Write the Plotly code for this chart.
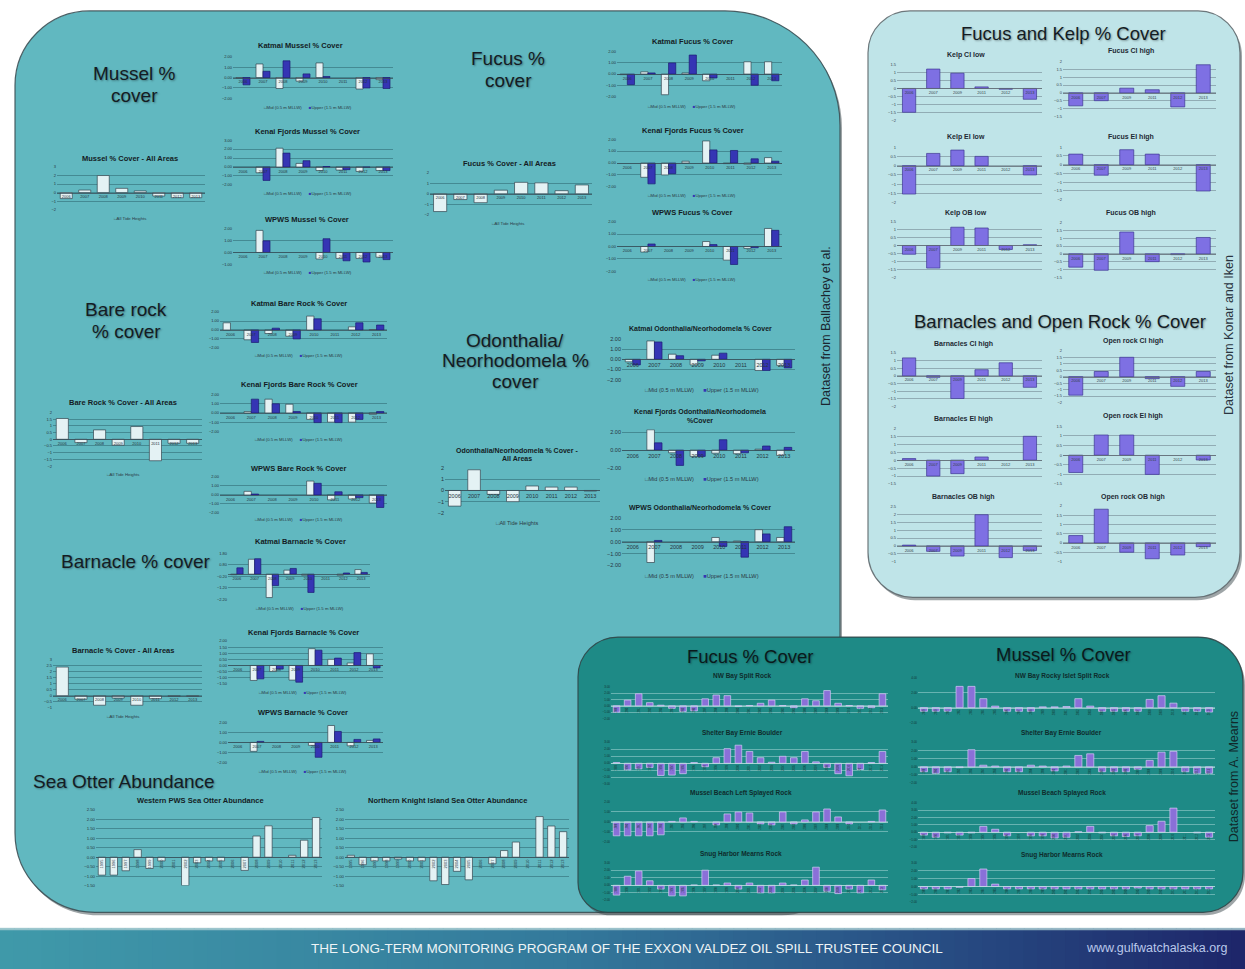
import plotly.graph_objects as go

W, H = 1245, 969

# ---------------- categories ----------------
YEARS = ["2006", "2007", "2008", "2009", "2010", "2011", "2012", "2013"]
KI_YEARS = ["2006", "2007", "2009", "2011", "2012", "2013"]
OTTER_YEARS = ["1995", "1996", "1997", "1998", "1999", "2000", "2001", "2002", "2003", "2004",
               "2005", "2006", "2007", "2008", "2009", "2010", "2011", "2012", "2013"]
MEARNS_YEARS = ["1989", "1990", "1991", "1992", "1993", "1994", "1995", "1996", "1997", "1998",
                "1999", "2000", "2001", "2002", "2003", "2004", "2005", "2006", "2007", "2008",
                "2009", "2010", "2011", "2012", "2013"]

# ---------------- Ballachey et al. (Mid / Upper tide heights, anomalies) ----------------
katmai_mussel_mid = [-0.05, 1.3, -1.05, -0.35, 1.4, None, -1.1, -0.2]
katmai_mussel_up = [-0.7, 0.6, 1.6, 0.35, 0.1, None, -1.0, -1.05]
kenai_mussel_mid = [None, -0.65, 2.1, 0.4, -0.4, -0.35, -0.5, -0.4]
kenai_mussel_up = [None, -1.5, 1.55, 0.7, 0.05, -0.3, -0.05, -0.4]
wpws_mussel_mid = [None, 1.85, None, None, -0.55, -0.5, -0.5, -0.4]
wpws_mussel_up = [None, 0.97, None, None, 1.15, -0.7, -0.8, -0.6]
all_mussel = [-0.7, 0.3, 2.0, 0.5, 0.2, -0.4, -0.6, -0.6]

katmai_fucus_mid = [-0.05, 0.2, -1.85, 0.1, -0.6, None, 1.1, 1.1]
katmai_fucus_up = [-0.95, 0.1, 1.0, 1.7, -0.35, None, -1.0, -0.6]
kenai_fucus_mid = [None, -1.2, -1.0, 0.15, 1.85, -0.05, -0.1, 0.45]
kenai_fucus_up = [None, -1.75, -0.9, None, 1.1, 1.05, 0.35, 0.15]
wpws_fucus_mid = [None, -0.45, None, None, 0.4, -1.1, -0.15, 1.45]
wpws_fucus_up = [None, 0.2, None, None, 0.15, -1.45, -0.1, 1.3]
all_fucus = [-1.7, -0.55, -0.85, 0.35, 1.1, 1.05, 0.3, 0.85]

katmai_bare_mid = [0.8, -1.1, -0.4, -0.7, 1.55, None, 0.35, 0.05]
katmai_bare_up = [None, -1.4, 0.2, -1.0, 1.25, None, 0.8, 0.55]
kenai_bare_mid = [None, 0.15, 1.5, 0.95, -0.7, -1.0, -1.0, -0.15]
kenai_bare_up = [None, 1.5, 1.0, 0.15, -1.05, -1.05, -0.7, 0.15]
wpws_bare_mid = [None, 0.4, None, None, 1.55, -0.55, -0.45, -0.9]
wpws_bare_up = [None, 0.1, None, None, 1.3, 0.35, -0.3, -1.4]
all_bare = [1.55, -0.25, 0.7, -0.45, 0.95, -1.6, -0.3, -0.3]

katmai_odon_mid = [-0.25, 1.8, 0.5, -0.55, 0.4, None, -1.1, -0.6]
katmai_odon_up = [-0.55, 1.7, 0.35, -0.15, 0.6, None, -1.1, -0.85]
kenai_odon_mid = [None, 2.25, -0.3, -0.7, -0.35, -0.4, 0.1, -0.6]
kenai_odon_up = [None, 0.8, -1.7, -0.7, 1.15, -0.3, 0.45, 0.3]
wpws_odon_mid = [None, -1.75, None, None, 0.35, 0.05, 1.0, 0.35]
wpws_odon_up = [None, 0.1, None, None, -0.4, -1.3, 0.65, 1.25]
all_odon = [-1.4, 1.85, -0.35, -1.0, 0.4, 0.3, 0.3, -0.05]

katmai_barn_mid = [-0.05, 1.3, -2.05, 0.35, -0.1, None, -0.1, 0.4]
katmai_barn_up = [0.55, 1.35, -1.0, 0.5, -1.6, None, 0.1, 0.15]
kenai_barn_mid = [None, -1.23, -0.5, -1.2, 1.37, 0.5, 0.2, 0.95]
kenai_barn_up = [None, -1.1, -0.3, -1.37, 1.25, 0.6, 1.05, -0.2]
wpws_barn_mid = [None, -0.9, None, None, -0.3, 1.7, -0.35, 0.2]
wpws_barn_up = [None, 0.1, None, None, -1.5, 1.1, 0.3, 0.35]
all_barn = [2.4, -0.3, -0.8, -0.2, -0.8, -0.25, -0.05, -0.05]

wpws_otter = [-0.95, -0.95, -0.72, 0.4, -0.6, -0.2, None, -1.5, -0.3, -0.2,
              -0.2, None, -0.7, 1.12, 1.66, None, 0.1, 0.9, 2.1]
nki_otter = [0.1, -0.4, -0.2, -0.2, -0.1, -0.2, -0.2, -1.25, -1.45, -0.75,
             -1.2, None, -0.35, 0.35, 0.8, None, 2.15, 1.65, 1.35]

# ---------------- Konar and Iken ----------------
kelp_ci_low = [-1.5, 1.22, 0.96, 0.1, -0.05, -0.68]
fucus_ci_high = [-0.83, -0.5, 0.3, 0.2, -0.9, 1.8]
kelp_ei_low = [-1.53, 0.66, 0.84, 0.5, None, -0.5]
fucus_ei_high = [0.6, -0.6, 0.85, 0.6, None, -1.5]
kelp_ob_low = [-0.55, -1.42, 1.15, 1.1, -0.25, 0.05]
fucus_ob_high = [-0.85, -1.05, 1.4, -0.5, -0.05, 1.05]
barn_ci_high = [1.17, -0.1, -1.48, 0.4, 0.85, -0.75]
rock_ci_high = [-1.43, 0.4, 1.5, -0.15, -0.75, 0.4]
barn_ei_high = [0.1, -1.0, -0.85, 0.2, None, 1.5]
rock_ei_high = [-0.9, 1.05, 1.05, -1.0, None, -0.25]
barn_ob_high = [0.05, -0.35, -0.65, 2.0, -0.75, -0.3]
rock_ob_high = [0.4, 1.82, -0.5, -0.85, -0.65, -0.2]

# ---------------- A. Mearns ----------------
fucus_nwbay = [-1.0, 0.9, 1.9, 0.5, 0.1, -0.4, -0.9, -0.8, 1.1, 1.7, 1.6, -0.1, 0.05,
               0.4, 0.9, 0.05, -0.3, 1.1, 0.8, 2.4, 0.4, 0.05, -0.4, -0.3, 1.9]
fucus_shelter = [0.1, -0.95, -0.8, -0.6, -1.75, -1.7, -1.5, 0.1, -0.5, 0.8, 2.1, 2.6, 1.7,
                 0.8, 0.15, 1.0, 0.8, 1.7, 0.2, -0.6, -1.5, -1.8, -0.9, 0.1, 1.7]
fucus_musselbeach = [-1.4, -1.4, -1.4, -1.4, -1.3, 0.05, 0.4, 0.05, None, -0.3, 0.8, 1.0, 0.9,
                     -0.2, -0.3, 1.0, -0.2, 0.2, 1.0, 1.3, 0.5, -0.2, None, 0.05, 1.2]
fucus_snug = [-1.3, 1.2, 1.9, 0.6, -0.5, -1.4, -1.4, 0.05, 2.0, 0.05, 0.3, -0.5, 0.3,
              -1.0, -1.0, 0.3, 0.05, 0.7, 2.4, -0.8, -1.1, -0.5, -1.0, 0.7, -0.6]
mussel_nwbay = [-0.5, -0.5, -0.5, 2.85, 2.85, 1.2, 0.2, -0.5, -0.5, -0.5, 0.1, 0.1, 0.15,
                1.2, 0.2, -0.5, -0.5, -0.5, -0.5, 1.1, 1.6, 0.6, -0.5, -0.5, -0.6]
mussel_shelter = [-0.6, -0.8, -0.6, -0.1, 2.1, 0.2, 0.1, -0.6, -0.6, 0.2, 0.1, -0.5, 0.1,
                  1.4, 1.6, -0.6, -0.6, -0.6, -0.3, 0.8, 1.8, 1.9, -0.6, -0.8, -0.8]
mussel_musselbeach = [-0.4, -0.7, -0.1, -0.4, -0.1, 0.8, 0.4, -0.5, None, -0.5, -0.5, -0.8, -0.7,
                      0.05, 0.8, -0.1, -0.5, -0.6, -0.5, 0.9, 1.5, 3.3, None, -0.1, -0.7]
mussel_snug = [-0.3, -0.3, -0.3, -0.1, 1.0, 2.2, 0.3, -0.3, -0.3, -0.3, -0.3, -0.3, -0.3,
               -0.3, -0.3, -0.3, -0.3, -0.3, -0.2, -0.3, -0.3, -0.3, -0.3, -0.3, -0.3]

# ---------------- styling ----------------
FONT = "Arial, 'Liberation Sans', sans-serif"
TXT = "#141c24"
MID = ("#e4f2f4", "#34454f")
UP = ("#3535b4", "#1d1d72")
KI = ("#7e70e3", "#3d3792")
MEARNS = ("#8a70d8", "#d6cbf7")
TEAL = "#61b8c0"
LIGHT = "#bfe4e8"
DARK = "#1e8a86"
THEMES = {
    "teal": dict(grid="rgba(45,100,110,0.55)", line="rgba(55,75,85,0.75)", label="#26353e"),
    "light": dict(grid="rgba(115,135,145,0.6)", line="rgba(95,105,115,0.8)", label="#34424c"),
    "dark": dict(grid="rgba(175,220,220,0.5)", line="rgba(190,225,225,0.7)", label="#123634"),
}

fig = go.Figure()
axes = {}
annotations = []
shapes = []
count = [0]


def add_chart(cats, series, box, yr, dtick, tick0=0.0, fmt="", tick_size=4.0, cat_size=4.0,
              cat_angle=0, theme="teal", width=None):
    count[0] += 1
    n = count[0]
    sfx = "" if n == 1 else str(n)
    th = THEMES[theme]
    x0, ytop, x1, ybot = box
    dom_x = [x0 / W, x1 / W]
    dom_y = [1 - ybot / H, 1 - ytop / H]
    lo, hi = yr
    zpos = dom_y[0] + (0 - lo) / (hi - lo) * (dom_y[1] - dom_y[0])
    for vals, (fill, edge) in series:
        kw = {"width": width} if width else {}
        fig.add_trace(go.Bar(x=cats, y=vals, xaxis="x" + sfx, yaxis="y" + sfx,
                             marker=dict(color=fill, line=dict(color=edge, width=0.7)),
                             showlegend=False, **kw))
    axes["xaxis" + sfx] = dict(domain=dom_x, anchor="free", position=zpos, type="category",
                               tickmode="array", tickvals=cats, ticktext=cats,
                               showgrid=False, zeroline=False, showline=True,
                               linecolor=th["line"], linewidth=0.7, ticks="",
                               tickangle=cat_angle,
                               tickfont=dict(size=cat_size, color=th["label"], family=FONT),
                               fixedrange=True)
    axes["yaxis" + sfx] = dict(domain=dom_y, anchor="x" + sfx, range=[lo, hi],
                               tickmode="linear", tick0=tick0, dtick=dtick, tickformat=fmt,
                               showgrid=True, gridcolor=th["grid"], gridwidth=0.7,
                               zeroline=False, showline=False, ticks="",
                               tickfont=dict(size=tick_size, color=th["label"], family=FONT),
                               fixedrange=True)


def text(x, y, s, size, color=TXT, bold=False, angle=0, family=FONT, xanchor="center",
         shadow=None):
    f = dict(size=size, color=color, family=family)
    if shadow:
        f["shadow"] = shadow
    annotations.append(dict(x=x / W, y=1 - y / H, xref="paper", yref="paper",
                            text=("<b>%s</b>" % s) if bold else s, showarrow=False, font=f,
                            xanchor=xanchor, yanchor="middle", textangle=angle))


NB = "\u00a0"
LEG2 = ('<span style="color:#34454f">\u25a1</span>Mid (0.5 m MLLW)' + NB * 6 +
        '<span style="color:#3535b4">\u25a0</span>Upper (1.5 m MLLW)')
LEG1 = '<span style="color:#34454f">\u25a1</span>All Tide Heights'


def P(x, y):
    return "%.5f,%.5f" % (x / W, 1 - y / H)


def rrect(x0, y0, x1, y1, rtl, rtr, rbr, rbl):
    k = 0.5523
    return ("M %s L %s C %s %s %s L %s C %s %s %s L %s C %s %s %s L %s C %s %s %s Z" % (
        P(x0 + rtl, y0), P(x1 - rtr, y0),
        P(x1 - rtr + k * rtr, y0), P(x1, y0 + rtr - k * rtr), P(x1, y0 + rtr),
        P(x1, y1 - rbr),
        P(x1, y1 - rbr + k * rbr), P(x1 - rbr + k * rbr, y1), P(x1 - rbr, y1),
        P(x0 + rbl, y1),
        P(x0 + rbl - k * rbl, y1), P(x0, y1 - rbl + k * rbl), P(x0, y1 - rbl),
        P(x0, y0 + rtl),
        P(x0, y0 + rtl - k * rtl), P(x0 + rtl - k * rtl, y0), P(x0 + rtl, y0)))


def panel(coords, radii, fill, line, lw=1.2):
    shapes.append(dict(type="path", xref="paper", yref="paper", layer="below",
                       path=rrect(coords[0] + 2, coords[1] + 3, coords[2] + 2, coords[3] + 3, *radii),
                       fillcolor="rgba(40,55,60,0.45)", line=dict(width=0)))
    shapes.append(dict(type="path", xref="paper", yref="paper", layer="below",
                       path=rrect(*coords, *radii), fillcolor=fill,
                       line=dict(color=line, width=lw)))


# ---------------- background panels ----------------
panel((15, 8, 840, 915), (75, 115, 60, 80), TEAL, "rgba(60,80,85,0.9)")
panel((868, 8, 1240, 598), (42, 42, 45, 45), LIGHT, "rgba(95,105,110,0.9)")
panel((578, 638, 1243, 915), (40, 45, 40, 30), DARK, "rgba(50,70,72,0.9)")

# banner gradient
stops = [(0.0, (64, 154, 170)), (0.45, (52, 122, 156)), (0.75, (40, 78, 132)), (1.0, (30, 38, 106))]
NSTRIP = 90
for i in range(NSTRIP):
    t = (i + 0.5) / NSTRIP
    for j in range(len(stops) - 1):
        if stops[j][0] <= t <= stops[j + 1][0]:
            a, ca = stops[j]
            b, cb = stops[j + 1]
            u = (t - a) / (b - a)
            c = tuple(int(ca[m] + (cb[m] - ca[m]) * u) for m in range(3))
            break
    shapes.append(dict(type="rect", xref="paper", yref="paper", layer="below",
                       x0=i / NSTRIP, x1=(i + 1) / NSTRIP + 0.001, y0=-0.01, y1=1 - 931 / H,
                       fillcolor="rgb(%d,%d,%d)" % c, line=dict(width=0)))
shapes.append(dict(type="rect", xref="paper", yref="paper", layer="below",
                   x0=0, x1=1, y0=1 - 933 / H, y1=1 - 930.5 / H,
                   fillcolor="rgba(170,205,210,0.8)", line=dict(width=0)))

# ---------------- Mussel ----------------
add_chart(YEARS, [(katmai_mussel_mid, MID), (katmai_mussel_up, UP)], (233, 54, 393, 96), (-2, 2), 1, fmt=".2f")
add_chart(YEARS, [(kenai_mussel_mid, MID), (kenai_mussel_up, UP)], (233, 138, 393, 183), (-2, 3), 1, fmt=".2f")
add_chart(YEARS, [(wpws_mussel_mid, MID), (wpws_mussel_up, UP)], (233, 227, 393, 263), (-1, 2), 1, fmt=".2f")
add_chart(YEARS, [(all_mussel, MID)], (57, 165, 205, 208), (-2, 3), 1, width=0.65)

# ---------------- Fucus ----------------
add_chart(YEARS, [(katmai_fucus_mid, MID), (katmai_fucus_up, UP)], (617, 49, 782, 94), (-2, 2), 1, fmt=".2f")
add_chart(YEARS, [(kenai_fucus_mid, MID), (kenai_fucus_up, UP)], (617, 137, 782, 185), (-2, 2), 1, fmt=".2f")
add_chart(YEARS, [(wpws_fucus_mid, MID), (wpws_fucus_up, UP)], (617, 220, 782, 270), (-2, 2), 1, fmt=".2f")
add_chart(YEARS, [(all_fucus, MID)], (430, 171, 592, 213), (-2, 2), 1, width=0.65)

# ---------------- Bare rock ----------------
add_chart(YEARS, [(katmai_bare_mid, MID), (katmai_bare_up, UP)], (220, 311, 387, 347), (-2, 2), 1, fmt=".2f")
add_chart(YEARS, [(kenai_bare_mid, MID), (kenai_bare_up, UP)], (220, 394, 387, 431), (-2, 2), 1, fmt=".2f")
add_chart(YEARS, [(wpws_bare_mid, MID), (wpws_bare_up, UP)], (220, 477, 387, 513), (-2, 2), 1, fmt=".2f")
add_chart(YEARS, [(all_bare, MID)], (53, 412, 202, 466), (-2, 2), 0.5, width=0.65)

# ---------------- Odonthalia / Neorhodomela ----------------
add_chart(YEARS, [(katmai_odon_mid, MID), (katmai_odon_up, UP)], (622, 338, 795, 379), (-2, 2), 1,
          fmt=".2f", tick_size=5.5, cat_size=5.5)
add_chart(YEARS, [(kenai_odon_mid, MID), (kenai_odon_up, UP)], (622, 429, 795, 468), (-2, 2.3), 2,
          fmt=".2f", tick_size=5.5, cat_size=5.5)
add_chart(YEARS, [(wpws_odon_mid, MID), (wpws_odon_up, UP)], (622, 518, 795, 566), (-2, 2), 1,
          fmt=".2f", tick_size=5.5, cat_size=5.5)
add_chart(YEARS, [(all_odon, MID)], (445, 468, 600, 513), (-2, 2), 1, width=0.65,
          tick_size=5.5, cat_size=5.5)

# ---------------- Barnacle ----------------
add_chart(YEARS, [(katmai_barn_mid, MID), (katmai_barn_up, UP)], (228, 554, 370, 600), (-2.2, 1.8), 1,
          tick0=-0.2, fmt=".2f")
add_chart(YEARS, [(kenai_barn_mid, MID), (kenai_barn_up, UP)], (228, 642, 383, 685), (-1.5, 2.0), 0.5, fmt=".2f")
add_chart(YEARS, [(wpws_barn_mid, MID), (wpws_barn_up, UP)], (228, 724, 383, 764), (-2, 2), 1, fmt=".2f")
add_chart(YEARS, [(all_barn, MID)], (53, 661, 202, 709), (-1, 3), 0.5, width=0.65)

# ---------------- Sea otters ----------------
add_chart(OTTER_YEARS, [(wpws_otter, MID)], (96, 812, 322, 888), (-1.5, 2.5), 0.5, fmt=".2f",
          cat_angle=-90, width=0.62, tick_size=4.3)
add_chart(OTTER_YEARS, [(nki_otter, MID)], (345, 812, 569, 888), (-1.5, 2.5), 0.5, fmt=".2f",
          cat_angle=-90, width=0.62, tick_size=4.3)

# ---------------- Konar and Iken ----------------
LX, RX = (897, 1042), (1063, 1216)
ki = dict(theme="light", width=0.55)
add_chart(KI_YEARS, [(kelp_ci_low, KI)], (LX[0], 62, LX[1], 118), (-2, 1.5), 0.5, **ki)
add_chart(KI_YEARS, [(fucus_ci_high, KI)], (RX[0], 59, RX[1], 114), (-1.5, 2), 0.5, **ki)
add_chart(KI_YEARS, [(kelp_ei_low, KI)], (LX[0], 145, LX[1], 201), (-2, 1), 0.5, **ki)
add_chart(KI_YEARS, [(fucus_ei_high, KI)], (RX[0], 145, RX[1], 198), (-2, 1), 0.5, **ki)
add_chart(KI_YEARS, [(kelp_ob_low, KI)], (LX[0], 220, LX[1], 276), (-2, 1.5), 0.5, **ki)
add_chart(KI_YEARS, [(fucus_ob_high, KI)], (RX[0], 221, RX[1], 276), (-1.5, 2), 0.5, **ki)
add_chart(KI_YEARS, [(barn_ci_high, KI)], (LX[0], 352, LX[1], 406), (-2, 1.5), 0.5, **ki)
add_chart(KI_YEARS, [(rock_ci_high, KI)], (RX[0], 350, RX[1], 402), (-2, 2), 0.5, **ki)
add_chart(KI_YEARS, [(barn_ei_high, KI)], (LX[0], 428, LX[1], 484), (-1.5, 2), 0.5, **ki)
add_chart(KI_YEARS, [(rock_ei_high, KI)], (RX[0], 426, RX[1], 484), (-1.5, 1.5), 0.5, **ki)
add_chart(KI_YEARS, [(barn_ob_high, KI)], (LX[0], 507, LX[1], 562), (-1, 2.5), 0.5, **ki)
add_chart(KI_YEARS, [(rock_ob_high, KI)], (RX[0], 506, RX[1], 562), (-1, 2), 0.5, **ki)

# ---------------- Mearns ----------------
mm = dict(theme="dark", width=0.6, fmt=".2f", tick_size=3, cat_size=2.6, cat_angle=-90)
add_chart(MEARNS_YEARS, [(fucus_nwbay, MEARNS)], (611, 688, 888, 720), (-2, 3), 1, **mm)
add_chart(MEARNS_YEARS, [(fucus_shelter, MEARNS)], (611, 744, 888, 786), (-3, 3), 1, **mm)
add_chart(MEARNS_YEARS, [(fucus_musselbeach, MEARNS)], (611, 804, 888, 844), (-2, 2), 1, **mm)
add_chart(MEARNS_YEARS, [(fucus_snug, MEARNS)], (611, 865, 888, 903), (-2, 3), 1, **mm)
add_chart(MEARNS_YEARS, [(mussel_nwbay, MEARNS)], (918, 679, 1215, 724), (-2, 4), 2, **mm)
add_chart(MEARNS_YEARS, [(mussel_shelter, MEARNS)], (918, 744, 1215, 785), (-2, 3), 1, **mm)
add_chart(MEARNS_YEARS, [(mussel_musselbeach, MEARNS)], (918, 805, 1215, 849), (-2, 4), 1, **mm)
add_chart(MEARNS_YEARS, [(mussel_snug, MEARNS)], (918, 865, 1215, 905), (-2, 3), 1, **mm)

# ---------------- texts ----------------
SH = "1px 1px 2px rgba(0,0,0,0.35)"
for x, y, s in [(134, 71, "Mussel %"), (134, 93, "cover"),
                (508, 56, "Fucus %"), (508, 78, "cover"),
                (126, 308, "Bare rock"), (126, 331, "% cover"),
                (515, 340, "Odonthalia/"), (515, 360, "Neorhodomela %"), (515, 381, "cover"),
                (136, 562, "Barnacle % cover")]:
    text(x, y, s, 19, shadow=SH)
text(31, 783, "Sea Otter Abundance", 19, shadow=SH, xanchor="left")
text(1063, 31, "Fucus and Kelp % Cover", 18.5, shadow=SH)
text(1060, 320, "Barnacles and Open Rock % Cover", 18.5, shadow=SH)
text(750, 658, "Fucus % Cover", 18.5, color="#0a1a1c", shadow=SH)
text(1063, 656, "Mussel % Cover", 18.5, color="#0a1a1c", shadow=SH)

for x, y, s in [(300, 43, "Katmai Mussel % Cover"), (307, 129, "Kenai Fjords Mussel % Cover"),
                (307, 218, "WPWS Mussel % Cover"), (130, 156, "Mussel % Cover - All Areas"),
                (692, 39, "Katmai Fucus % Cover"), (693, 128, "Kenai Fjords Fucus % Cover"),
                (692, 211, "WPWS Fucus % Cover"), (509, 162, "Fucus % Cover - All Areas"),
                (299, 302, "Katmai Bare Rock % Cover"), (299, 384, "Kenai Fjords Bare Rock % Cover"),
                (299, 468, "WPWS Bare Rock % Cover"), (123, 402, "Bare Rock % Cover - All Areas"),
                (300, 542, "Katmai Barnacle % Cover"), (303, 633, "Kenai Fjords Barnacle % Cover"),
                (303, 714, "WPWS Barnacle % Cover"), (123, 652, "Barnacle % Cover - All Areas"),
                (200, 802, "Western PWS Sea Otter Abundance"),
                (447, 802, "Northern Knight Island Sea Otter Abundance")]:
    text(x, y, s, 7.5, bold=True)
for x, y, s in [(700, 328, "Katmai Odonthalia/Neorhodomela % Cover"),
                (700, 412, "Kenai Fjords Odonthalia/Neorhodomela"), (700, 420, "%Cover"),
                (700, 508, "WPWS Odonthalia/Neorhodomela % Cover"),
                (517, 450, "Odonthalia/Neorhodomela % Cover -"), (517, 458, "All Areas")]:
    text(x, y, s, 7, bold=True)
for x, y, s in [(966, 52, "Kelp CI low"), (1131, 48, "Fucus CI high"),
                (966, 135, "Kelp EI low"), (1131, 135, "Fucus EI high"),
                (966, 211, "Kelp OB low"), (1131, 211, "Fucus OB high"),
                (963, 343, "Barnacles CI high"), (1133, 340, "Open rock CI high"),
                (963, 419, "Barnacles EI high"), (1133, 416, "Open rock EI high"),
                (963, 497, "Barnacles OB high"), (1133, 497, "Open rock OB high")]:
    text(x, y, s, 7, bold=True, color="#1e2a34")
for x, y, s in [(742, 677, "NW Bay Split Rock"), (742, 735, "Shelter Bay Ernie Boulder"),
                (741, 795, "Mussel Beach Left Splayed Rock"), (741, 856, "Snug Harbor Mearns Rock"),
                (1062, 677, "NW Bay Rocky Islet Split Rock"), (1061, 735, "Shelter Bay Ernie Boulder"),
                (1062, 795, "Mussel Beach Splayed Rock"), (1062, 857, "Snug Harbor Mearns Rock")]:
    text(x, y, s, 6.5, bold=True, color="#0e2c2c")

for x, y in [(308, 105), (308, 192), (308, 271), (692, 104), (692, 194), (692, 278),
             (299, 355), (299, 439), (299, 520), (300, 609), (303, 694), (303, 773)]:
    text(x, y, LEG2, 4.3, color="#2b3a44")
for x, y in [(702, 389), (702, 479), (702, 577)]:
    text(x, y, LEG2, 5.6, color="#2b3a44")
for x, y in [(130, 217), (508, 222), (123, 474), (123, 718)]:
    text(x, y, LEG1, 4.3, color="#2b3a44")
text(517, 523, LEG1, 5.6, color="#2b3a44")

text(826, 325, "Dataset from Ballachey et al.", 12.5, angle=-90, color="#1b2630")
text(1229, 334, "Dataset from Konar and Iken", 12.5, angle=-90, color="#2a3440")
text(1234, 779, "Dataset from A. Mearns", 12.5, angle=-90, color="#10282a")

text(627, 951, "THE LONG-TERM MONITORING PROGRAM OF THE EXXON VALDEZ OIL SPILL TRUSTEE COUNCIL",
     13.5, color="#eef4f6")
text(1156, 951, "www.gulfwatchalaska.org", 12.5, color="#b9c8ea")

fig.update_layout(width=W, height=H, margin=dict(l=0, r=0, t=0, b=0),
                  paper_bgcolor="white", plot_bgcolor="rgba(0,0,0,0)",
                  barmode="group", bargap=0.3, bargroupgap=0.0,
                  showlegend=False, shapes=shapes, annotations=annotations,
                  font=dict(family=FONT, color=TXT), **axes)
fig.write_html("out.html", config={"displayModeBar": False},
               post_script="document.body.style.margin='0';document.body.style.overflow='hidden';")
